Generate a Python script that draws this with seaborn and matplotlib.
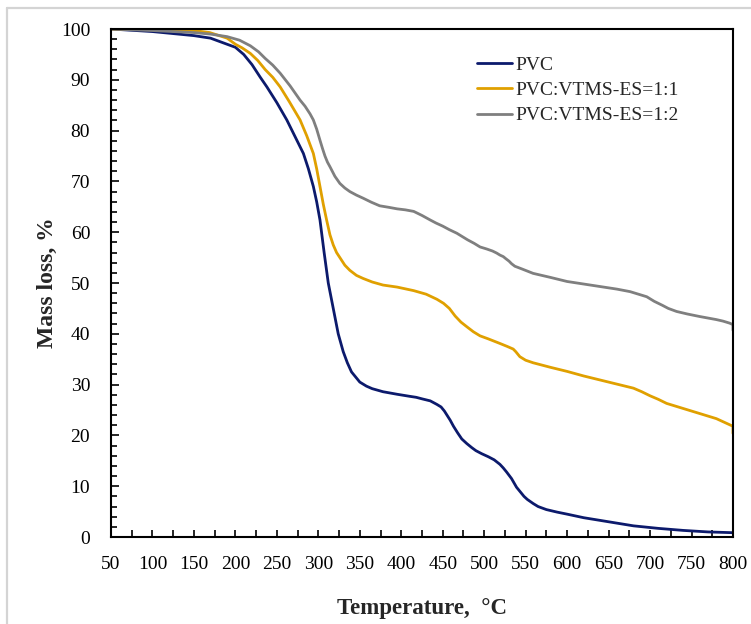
import matplotlib
matplotlib.use("Agg")
import matplotlib.pyplot as plt
import pandas as pd
import seaborn as sns
from matplotlib.lines import Line2D
from matplotlib.ticker import MultipleLocator

# values
pvc_t = [50, 100, 150, 170, 190, 200, 210, 220, 230, 238, 250, 262, 272, 282, 288, 294,
         298, 302, 307, 312, 318, 324, 330, 335, 340, 345, 350, 358, 365, 378, 395, 410,
         418, 425, 435, 443, 448, 452, 459, 463, 468, 473, 479, 485, 490, 497, 505, 512,
         519, 523, 527, 533, 539, 545, 548, 552, 559, 565, 575, 588, 600, 620, 650, 680,
         710, 740, 770, 800]
pvc_m = [100, 99.5, 98.7, 98.2, 97.0, 96.4, 95.0, 93.0, 90.5, 88.6, 85.5, 82.1, 78.8, 75.5, 72.5, 69.0,
         66.0, 62.4, 56.0, 50.0, 45.0, 40.0, 36.5, 34.3, 32.5, 31.5, 30.5, 29.7, 29.2, 28.6, 28.1, 27.7,
         27.5, 27.2, 26.8, 26.1, 25.6, 24.8, 23.0, 21.8, 20.5, 19.3, 18.4, 17.6, 17.0, 16.4, 15.8, 15.2,
         14.3, 13.6, 12.8, 11.5, 9.8, 8.6, 8.0, 7.4, 6.6, 6.0, 5.4, 4.9, 4.5, 3.8, 3.0, 2.2,
         1.7, 1.3, 1.0, 0.85]

es11_t = [50, 100, 150, 169, 190, 200, 208, 218, 227, 236, 245, 254, 265, 278, 286, 294,
          298, 302, 306, 310, 314, 318, 322, 326, 332, 338, 346, 354, 365, 378, 395, 415,
          430, 443, 451, 458, 465, 472, 479, 487, 495, 505, 519, 528, 535, 538, 543, 550,
          559, 580, 600, 620, 640, 660, 680, 690, 700, 710, 720, 730, 740, 750, 760, 770,
          780, 792, 800, 800]
es11_m = [100, 99.9, 99.7, 99.3, 98.2, 97.0, 96.3, 95.2, 93.8, 92.0, 90.5, 88.6, 85.7, 82.1, 79.0, 75.5,
          72.5, 69.0, 65.5, 62.4, 59.5, 57.5, 56.0, 55.0, 53.5, 52.5, 51.5, 50.9, 50.2, 49.6, 49.2, 48.5,
          47.8, 46.8, 46.0, 45.0, 43.5, 42.3, 41.4, 40.4, 39.6, 39.0, 38.1, 37.5, 37.0, 36.5, 35.5, 34.8,
          34.3, 33.4, 32.6, 31.7, 30.9, 30.1, 29.3, 28.6, 27.8, 27.1, 26.3, 25.8, 25.3, 24.8, 24.3, 23.8,
          23.3, 22.4, 21.8, 20.4]

es12_t = [50, 100, 150, 170, 190, 205, 218, 228, 236, 245, 254, 266, 278, 284, 290, 294,
          298, 302, 305, 308, 311, 314, 320, 326, 332, 338, 346, 354, 364, 374, 385, 395,
          405, 415, 425, 435, 442, 450, 458, 467, 473, 480, 488, 495, 503, 510, 515, 519,
          523, 526, 530, 533, 537, 545, 559, 580, 600, 620, 640, 660, 676, 686, 696, 705,
          715, 722, 732, 745, 760, 770, 780, 788, 796, 800, 800]
es12_m = [100, 99.7, 99.3, 99.0, 98.5, 97.8, 96.7, 95.5, 94.2, 92.9, 91.3, 88.8, 86.0, 84.8, 83.3, 82.1,
          80.3, 78.1, 76.5, 75.0, 73.8, 72.9, 71.0, 69.6, 68.7, 68.0, 67.3, 66.7, 65.9, 65.2, 64.9, 64.6,
          64.4, 64.1, 63.3, 62.4, 61.8, 61.2, 60.5, 59.8, 59.2, 58.5, 57.8, 57.1, 56.7, 56.3, 55.9, 55.5,
          55.2, 54.8, 54.3, 53.8, 53.3, 52.8, 51.9, 51.1, 50.3, 49.8, 49.3, 48.8, 48.3, 47.8, 47.3, 46.4,
          45.6, 45.0, 44.4, 43.9, 43.4, 43.1, 42.8, 42.5, 42.1, 41.8, 40.7]

names = ["PVC", "PVC:VTMS-ES=1:1", "PVC:VTMS-ES=1:2"]
colors = ["#0c1a6c", "#e0a000", "#7f7f7f"]

df = pd.concat([
    pd.DataFrame({"T": pvc_t, "M": pvc_m, "sample": names[0]}),
    pd.DataFrame({"T": es11_t, "M": es11_m, "sample": names[1]}),
    pd.DataFrame({"T": es12_t, "M": es12_m, "sample": names[2]}),
], ignore_index=True)

sns.set_style("white")
plt.rcParams["font.family"] = ["Liberation Serif", "DejaVu Serif"]

fig = plt.figure(figsize=(7.51, 6.24), dpi=100)
ax = fig.add_axes([0.1478, 0.1394, 0.8282, 0.8141])

sns.lineplot(data=df, x="T", y="M", hue="sample", palette=colors, estimator=None,
             sort=False, linewidth=2, ax=ax)
for ln in ax.get_lines():
    ln.set_solid_joinstyle("round")

ax.set_xlim(50, 800)
ax.set_ylim(0, 100)
ax.xaxis.set_major_locator(MultipleLocator(50))
ax.xaxis.set_minor_locator(MultipleLocator(25))
ax.yaxis.set_major_locator(MultipleLocator(10))
ax.yaxis.set_minor_locator(MultipleLocator(2))
ax.tick_params(axis="both", which="both", direction="in", colors="black", labelsize=14,
               bottom=True, left=True, top=False, right=False)
ax.tick_params(axis="x", which="major", length=5, width=1.2, pad=14)
ax.tick_params(axis="x", which="minor", length=5, width=1.2)
ax.tick_params(axis="y", which="major", length=6, width=1.2, pad=15)
ax.tick_params(axis="y", which="minor", length=4, width=1.2)
for s in ax.spines.values():
    s.set_color("black")
    s.set_linewidth(1.5)

ax.set_xlabel("Temperature,  \u00b0C", fontsize=16.5, fontweight="bold")
ax.set_ylabel("Mass loss, %", fontsize=17, fontweight="bold")
ax.xaxis.set_label_coords(0.5, -0.12)
ax.yaxis.set_label_coords(-0.085, 0.5)

handles = [Line2D([], [], color=c, linewidth=2) for c in colors]
ax.legend(handles, names, loc="upper left", bbox_to_anchor=(0.588, 0.947), frameon=False,
          fontsize=14, borderpad=0, handlelength=1.8, handletextpad=0.2, labelspacing=0.4,
          borderaxespad=0)

# light frame around the figure, as in the screenshot
fig.add_artist(Line2D([0.0093, 0.0093], [0, 0.987], transform=fig.transFigure,
                      color="#d4d4d4", linewidth=1.6))
fig.add_artist(Line2D([0.0093, 1], [0.987, 0.987], transform=fig.transFigure,
                      color="#d4d4d4", linewidth=1.6))

fig.savefig("out.png", dpi=100)
